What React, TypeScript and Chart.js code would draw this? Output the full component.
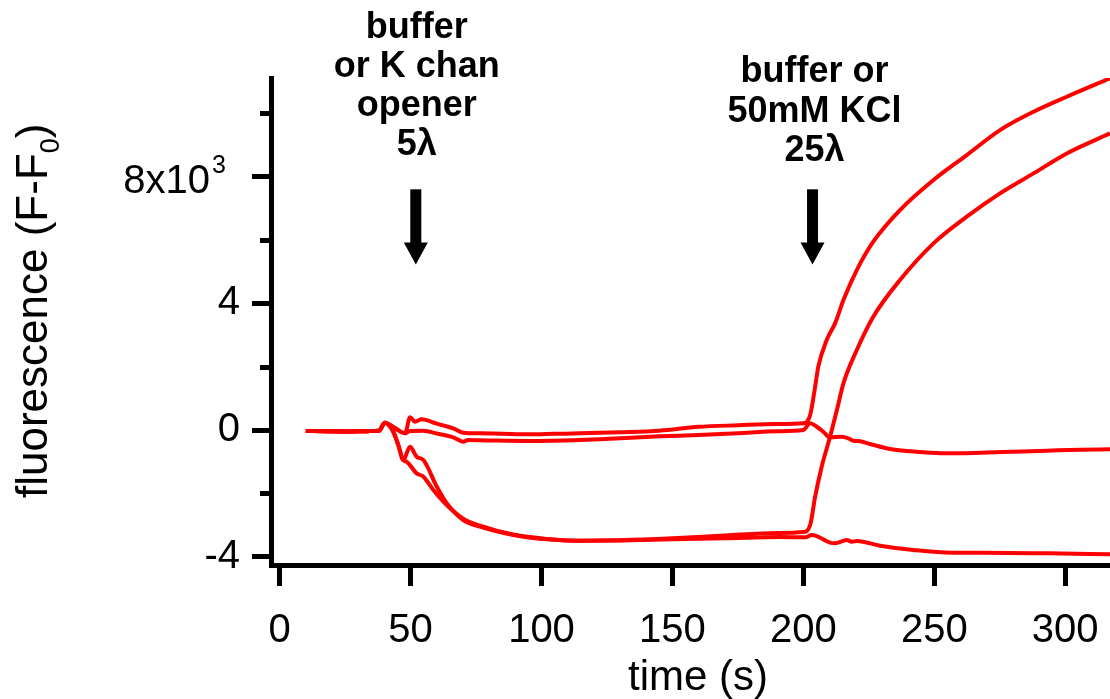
import React, { useEffect, useRef } from 'react';
import { Chart, registerables } from 'chart.js';

Chart.register(...registerables);

const FONT = '"Liberation Sans", Arial, Helvetica, sans-serif';

// Trace A: buffer -> 50mM KCl
const timeA = [10, 18, 26, 34, 38, 40.2, 44, 47.9, 49.8, 51.7, 54.2, 60, 66.3, 70.1, 76.5, 85, 95.6, 105, 114.7, 130, 145, 160, 175, 190, 200, 202.6, 204.5, 205.7, 208.9, 212.1, 215.3, 220.4, 226.7, 236.9, 249.7, 262.4, 275.1, 287.9, 300.6, 317.1];
const fluorA = [-30, -40, -45, -35, -20, 230, 60, -105, 401, 262, 338, 200, 54, -85, -105, -120, -136, -120, -105, -70, -20, 100, 150, 190, 215, 474, 1367, 1999, 2841, 3368, 4104, 5051, 5946, 6945, 7893, 8682, 9471, 10050, 10523, 11103];

// Trace B: buffer -> buffer
const timeB = [10, 18, 26, 34, 38, 40.2, 44, 47.9, 49.8, 54.9, 60, 66.3, 70.1, 72, 80, 95.6, 114.7, 130, 145, 160, 175, 190, 200, 202.6, 205.1, 207.6, 210.2, 214.7, 217.2, 219.1, 221, 225.5, 233.1, 239.5, 256, 267.5, 280.1, 293, 305.7, 317.1];
const fluorB = [-30, -40, -45, -35, -20, 230, 60, -105, -32, -21, -110, -231, -369, -316, -330, -347, -316, -260, -200, -158, -100, -40, 0, 211, 105, -53, -231, -211, -262, -338, -347, -442, -600, -663, -736, -716, -685, -653, -622, -610];

// Trace C: K channel opener -> 50mM KCl
const timeC = [10, 18, 26, 34, 38, 40.2, 43.4, 45.3, 47.2, 49.8, 52.3, 54.9, 60, 63.8, 70.1, 76.5, 89.2, 102, 114.7, 130, 150, 170, 190, 200, 202.6, 204.5, 207, 210.2, 212.8, 215.3, 220.4, 226.7, 236.9, 249.7, 262.4, 275.1, 287.9, 300.6, 317.1];
const fluorC = [-30, -40, -45, -35, -20, 230, -54, -474, -947, -526, -842, -947, -1789, -2314, -2841, -3052, -3315, -3452, -3494, -3480, -3420, -3330, -3250, -3220, -2999, -2105, -1158, -211, 631, 1474, 2526, 3578, 4736, 5893, 6735, 7472, 8103, 8734, 9366];

// Trace D: K channel opener -> buffer
const timeD = [10, 18, 26, 34, 38, 40.2, 43.4, 45.3, 47.2, 48.5, 52.3, 54.9, 58.7, 63.8, 70.1, 76.5, 89.2, 102, 114.7, 130, 150, 170, 191.1, 200.7, 203.2, 205.1, 210.2, 212.1, 216.6, 218.5, 220.4, 229.3, 242, 256.7, 267.5, 293, 317.1];
const fluorD = [-30, -40, -45, -35, -20, 230, -54, -474, -947, -1000, -1368, -1473, -1894, -2368, -2800, -3020, -3300, -3440, -3500, -3490, -3450, -3420, -3380, -3389, -3315, -3347, -3557, -3578, -3473, -3526, -3504, -3652, -3788, -3873, -3873, -3894, -3925];

const xRange = [-3.3, 317.1];
const yRange = [-4262, 11115];
const xTickStep = 50;
const yTickValues = [-4000, -2000, 0, 2000, 4000, 6000, 8000, 10000];
const yMajorStep = 4000;
const yExpLabelValue = 8000;
const yExpLabelBase = '8x10';
const yExpLabelPower = '3';
const xTitle = 'time (s)';
const yTitleMain = 'fluorescence (F-F';
const yTitleSub = '0';
const yTitleEnd = ')';
const annotation1Lines = ['buffer', 'or K chan', 'opener', '5λ'];
const annotation2Lines = ['buffer or', '50mM KCl', '25λ'];
const annotationTimes = [52, 203.5];
const arrowTopValue = 7600;
const arrowTipValue = 5230;

const toPoints = (t: number[], v: number[]) => t.map((x, i) => ({ x, y: v[i] }));

const decorations = {
  id: 'decorations',
  afterDraw(chart: any) {
    const { ctx, chartArea, scales } = chart;
    const xs = scales.x;
    const ys = scales.y;
    ctx.save();
    ctx.fillStyle = '#000';
    ctx.strokeStyle = '#000';

    // minor y ticks (short)
    ctx.lineWidth = 5;
    ys.ticks.forEach((t: any) => {
      if (t.value % yMajorStep !== 0) {
        const y = Math.round(ys.getPixelForValue(t.value)) + 0.5;
        ctx.beginPath();
        ctx.moveTo(chartArea.left - 2, y);
        ctx.lineTo(chartArea.left - 11, y);
        ctx.stroke();
      }
    });

    // 8x10^3 label
    const y8 = ys.getPixelForValue(yExpLabelValue);
    ctx.font = `40px ${FONT}`;
    ctx.textAlign = 'right';
    ctx.textBaseline = 'alphabetic';
    ctx.fillText(yExpLabelBase, 210, y8 + 16);
    ctx.font = `25px ${FONT}`;
    ctx.textAlign = 'left';
    ctx.fillText(yExpLabelPower, 212, y8 - 4);

    // x title
    ctx.font = `42px ${FONT}`;
    ctx.textAlign = 'center';
    ctx.fillText(xTitle, 698, 690);

    // y title (rotated)
    ctx.save();
    ctx.translate(47, 498);
    ctx.rotate(-Math.PI / 2);
    ctx.textAlign = 'left';
    ctx.font = `44px ${FONT}`;
    ctx.fillText(yTitleMain, 0, 0);
    let w = ctx.measureText(yTitleMain).width;
    ctx.font = `27px ${FONT}`;
    ctx.fillText(yTitleSub, w, 12);
    w += ctx.measureText(yTitleSub).width;
    ctx.font = `44px ${FONT}`;
    ctx.fillText(yTitleEnd, w, 0);
    ctx.restore();

    // annotations
    ctx.font = `bold 36px ${FONT}`;
    ctx.textAlign = 'center';
    const ax1 = xs.getPixelForValue(annotationTimes[0]);
    const ax2 = xs.getPixelForValue(annotationTimes[1]);
    annotation1Lines.forEach((s, i) => ctx.fillText(s, ax1 + 1, 38 + i * 39));
    annotation2Lines.forEach((s, i) => ctx.fillText(s, ax2 + 2, 82 + i * 39.5));

    const drawArrow = (x: number) => {
      const top = ys.getPixelForValue(arrowTopValue);
      const tip = ys.getPixelForValue(arrowTipValue);
      const headLen = 22;
      ctx.fillRect(x - 5.5, top, 11, tip - top - headLen + 1);
      ctx.beginPath();
      ctx.moveTo(x - 12, tip - headLen);
      ctx.lineTo(x + 12, tip - headLen);
      ctx.lineTo(x, tip);
      ctx.closePath();
      ctx.fill();
    };
    drawArrow(ax1);
    drawArrow(ax2);
    ctx.restore();
  },
};

export default function App() {
  const ref = useRef<HTMLCanvasElement | null>(null);
  useEffect(() => {
    if (!ref.current) return;
    const mk = (t: number[], v: number[]) => ({
      data: toPoints(t, v),
      borderColor: '#ff0000',
      backgroundColor: '#ff0000',
      borderWidth: 4,
      pointRadius: 0,
      tension: 0,
      cubicInterpolationMode: 'monotone' as const,
      fill: false,
    });
    const chart = new Chart(ref.current, {
      type: 'line',
      data: {
        datasets: [mk(timeA, fluorA), mk(timeB, fluorB), mk(timeC, fluorC), mk(timeD, fluorD)],
      },
      options: {
        animation: false,
        responsive: false,
        devicePixelRatio: 1,
        layout: { padding: { top: 78, right: 0, left: 0, bottom: 0 } },
        plugins: { legend: { display: false }, tooltip: { enabled: false }, title: { display: false } },
        scales: {
          x: {
            type: 'linear',
            min: xRange[0],
            max: xRange[1],
            afterFit: (s: any) => {
              s.height = 134;
              s.paddingLeft = 0;
              s.paddingRight = 0;
            },
            border: { display: true, color: '#000', width: 5 },
            grid: { display: true, drawOnChartArea: false, drawTicks: true, tickLength: 21, tickWidth: 5, tickColor: '#000' },
            ticks: {
              stepSize: xTickStep,
              includeBounds: false,
              autoSkip: false,
              maxRotation: 0,
              padding: 21,
              color: '#000',
              font: { family: FONT, size: 40 },
              callback: (v: any) => String(v),
            },
          },
          y: {
            type: 'linear',
            min: yRange[0],
            max: yRange[1],
            afterBuildTicks: (s: any) => {
              s.ticks = yTickValues.map((value) => ({ value }));
            },
            afterFit: (s: any) => {
              s.width = 271;
              s.paddingTop = 0;
              s.paddingBottom = 0;
            },
            border: { display: true, color: '#000', width: 5 },
            grid: {
              display: true,
              drawOnChartArea: false,
              drawTicks: true,
              tickLength: 19,
              tickWidth: 5,
              tickColor: (c: any) => (c.tick && c.tick.value % yMajorStep === 0 ? '#000' : 'rgba(0,0,0,0)'),
            },
            ticks: {
              autoSkip: false,
              padding: 12,
              color: '#000',
              font: { family: FONT, size: 40 },
              callback: (v: any) => {
                const n = Number(v);
                if (n % yMajorStep !== 0 || n === yExpLabelValue) return '';
                return String(n / 1000);
              },
            },
          },
        },
      },
      plugins: [decorations],
    });
    return () => chart.destroy();
  }, []);
  return (
    <div style={{ position: 'fixed', left: 0, top: 0, width: 1110, height: 699, background: '#fff' }}>
      <canvas ref={ref} width={1110} height={699} style={{ display: 'block' }} />
    </div>
  );
}
